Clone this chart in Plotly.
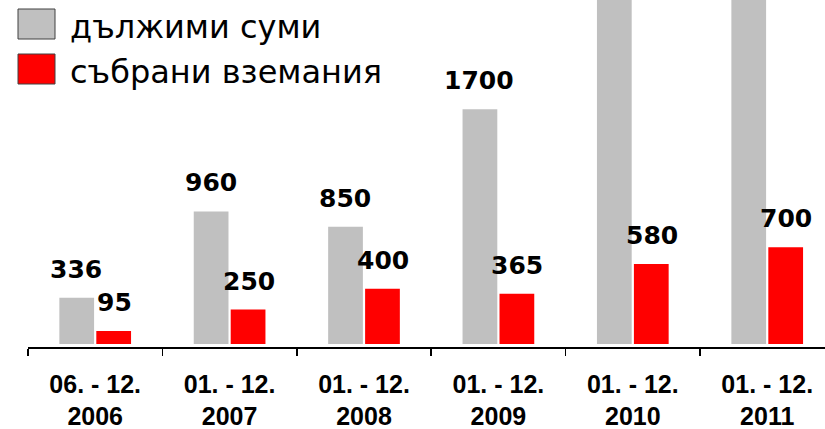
import plotly.graph_objects as go

categories = ["06. - 12.<br>2006", "01. - 12.<br>2007", "01. - 12.<br>2008",
              "01. - 12.<br>2009", "01. - 12.<br>2010", "01. - 12.<br>2011"]
owed = [336, 960, 850, 1700, 2800, 3100]          # дължими суми (last two clipped in original)
owed_labels = ["336", "960", "850", "1700", "", ""]
collected = [95, 250, 400, 365, 580, 700]          # събрани вземания
collected_labels = ["95", "250", "400", "365", "580", "700"]
series_names = ["дължими суми", "събрани вземания"]
colors = ["#C0C0C0", "#FF0000"]

W, H = 825, 429
ML, MR, MT, MB = 28, 0, 0, 82
PW, PH = W - ML - MR, H - MT - MB

def px_x(x):
    return (x - ML) / PW

def px_y(y):
    return (H - MB - y) / PH

fig = go.Figure()
fig.add_trace(go.Bar(x=categories, y=owed, name=series_names[0],
                     marker=dict(color=colors[0], line=dict(width=0)), showlegend=False))
fig.add_trace(go.Bar(x=categories, y=collected, name=series_names[1],
                     marker=dict(color=colors[1], line=dict(width=0)), showlegend=False))

label_font = dict(family="DejaVu Sans", size=25, color="black")
annotations = []
for i, c in enumerate(categories):
    if owed_labels[i]:
        annotations.append(dict(x=c, y=owed[i], xref="x", yref="y", text="<b>%s</b>" % owed_labels[i],
                                showarrow=False, xanchor="center", yanchor="bottom",
                                xshift=-19, yshift=12, font=label_font))
    if collected_labels[i]:
        annotations.append(dict(x=c, y=collected[i], xref="x", yref="y", text="<b>%s</b>" % collected_labels[i],
                                showarrow=False, xanchor="center", yanchor="bottom",
                                xshift=19, yshift=12, font=label_font))

# custom legend
shapes = []
legend_boxes = [(9, 39), (54, 84)]
for (y0, y1), col, name in zip(legend_boxes, colors, series_names):
    shapes.append(dict(type="rect", xref="paper", yref="paper",
                       x0=px_x(18), x1=px_x(55), y0=px_y(y1), y1=px_y(y0),
                       fillcolor=col, line=dict(color="#404040", width=1)))
    annotations.append(dict(x=px_x(68), y=px_y((y0 + y1) / 2 + 3), xref="paper", yref="paper",
                            text=name, showarrow=False, xanchor="left", yanchor="middle",
                            font=dict(family="DejaVu Sans", size=32, color="black")))

fig.update_layout(
    width=W, height=H,
    margin=dict(l=ML, r=MR, t=MT, b=MB, pad=0),
    paper_bgcolor="white", plot_bgcolor="white",
    barmode="group", bargap=0.45, bargroupgap=0.06,
    annotations=annotations, shapes=shapes,
    showlegend=False,
    xaxis=dict(type="category", range=[-0.5, 5.43], showline=True, linecolor="black", linewidth=1.5,
               ticks="outside", ticklen=7, tickwidth=1.5, tickcolor="black", tickson="boundaries",
               showgrid=False, zeroline=False, fixedrange=True, automargin=False,
               tickfont=dict(family="Liberation Sans", size=25, color="black"),
               ticklabelstandoff=14),
    yaxis=dict(range=[-21, 2490], visible=False, showgrid=False, zeroline=False, fixedrange=True),
)
fig.update_xaxes(tickvals=categories, ticktext=["<b>%s</b>" % c for c in categories])

fig.write_html("out.html", config={"displayModeBar": False, "staticPlot": True},
               post_script="document.body.style.margin='0';document.body.style.overflow='hidden';")
